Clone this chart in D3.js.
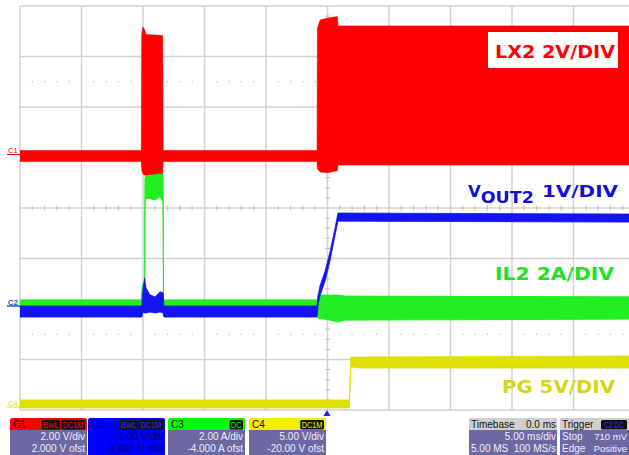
<!DOCTYPE html>
<html><head><meta charset="utf-8">
<script src="https://cdn.jsdelivr.net/npm/d3@7"></script>
<style>body{margin:0;background:#fff;} svg{display:block;}</style>
</head><body><svg id="c" width="629" height="455"></svg>
<script>
// ---------------- data ----------------
const timeDomain = [-25, 25];            // ms (10 div x 5 ms/div, trigger at centre)
const divX = 10, divY = 8;
const channels = ["C1", "C2", "C3", "C4"];
const chVdiv = [2, 1, 2, 5];
const chOffset = [2, -2, -4, -20];
const chUnit = ["V", "V", "A", "V"];
const chBadges = [["BwL", "DC1M"], ["BwL", "DC1M"], ["DC"], ["DC1M"]];
const chDivText = ["2.00 V/div", "1.00 V/div", "2.00 A/div", "5.00 V/div"];
const chOfstText = ["2.000 V ofst", "-2.000 V ofst", "-4.000 A ofst", "-20.00 V ofst"];
const timebaseText = ["Timebase", "0.0 ms", "5.00 ms/div", "5.00 MS", "100 MS/s"];
const triggerText = ["Trigger", "C2 DC", "Stop", "710 mV", "Edge", "Positive"];

// LX2 (C1, V)
const lx2Time = [-25, -15.14, -15.1, -15.0, -14.9, -14.76, -14.0, -13.4, -13.36, -0.85, -0.82, -0.6, 0.0, 0.8, 0.86, 25];
const lx2High = [0.28, 0.28, 4.9, 5.17, 5.1, 4.87, 4.85, 4.83, 0.28, 0.28, 5.1, 5.45, 5.52, 5.58, 5.21, 5.21];
const lx2Low  = [-0.16, -0.16, -0.5, -0.65, -0.69, -0.69, -0.65, -0.62, -0.16, -0.16, -0.45, -0.57, -0.6, -0.52, -0.3, -0.3];
// VOUT2 (C2, V)
const voutTime = [-25, -15.1, -15.0, -14.88, -14.76, -14.43, -14.02, -13.62, -13.37, -13.3, -0.85, -0.77, -0.61, -0.2, 0.2, 0.61, 0.85, 25];
const voutHigh = [0.06, 0.06, 0.38, 0.61, 0.42, 0.28, 0.24, 0.34, 0.32, 0.06, 0.06, 0.26, 0.46, 0.75, 1.13, 1.60, 1.90, 1.88];
const voutLow  = [-0.16, -0.16, -0.06, -0.08, -0.08, -0.06, -0.08, -0.06, -0.08, -0.16, -0.16, 0.06, 0.26, 0.55, 0.95, 1.45, 1.74, 1.72];
// IL2 (C3, A)
const il2Time = [-25, -15.15, -15.06, -14.86, -14.84, -14.67, -14.02, -13.62, -13.37, -13.33, -0.85, -0.77, 0.2, 0.85, 1.42, 25];
const il2High = [0.36, 0.36, 0.95, 0.95, 5.19, 5.43, 5.43, 5.43, 5.35, 0.36, 0.36, 0.55, 0.55, 0.55, 0.51, 0.48];
const il2Low  = [-0.04, -0.04, -0.04, -0.04, 4.32, 4.40, 4.32, 4.44, 4.24, -0.04, -0.04, -0.36, -0.44, -0.51, -0.44, -0.40];
// PG (C4, V)
const pgTime = [-25, 1.77, 1.9, 2.64, 25];
const pgHigh = [0.99, 0.99, 5.25, 5.25, 5.35];
const pgLow  = [0.2, 0.2, 4.26, 4.16, 4.16];

// ---------------- styles ----------------
const chColor = ["#ff0000", "#1414f0", "#22ee22", "#e0e000"];
const headColor = ["#ff0000", "#0000ff", "#00ff00", "#f0f000"];
const plot = {left: 20, right: 635, top: 6, bottom: 410};

const svg = d3.select("#c");
svg.append("rect").attr("width", 629).attr("height", 455).attr("fill", "#fff");

const x = d3.scaleLinear().domain(timeDomain).range([plot.left, plot.right]);
const xd = d3.scaleLinear().domain([0, divX]).range([plot.left, plot.right]);
const yd = d3.scaleLinear().domain([-divY / 2, divY / 2]).range([plot.bottom, plot.top]);
const yCh = channels.map((c, i) => d3.scaleLinear()
  .domain([-divY / 2 * chVdiv[i] - chOffset[i], divY / 2 * chVdiv[i] - chOffset[i]])
  .range([plot.bottom, plot.top]));

svg.append("defs").append("clipPath").attr("id", "pc")
  .append("rect").attr("x", plot.left).attr("y", plot.top)
  .attr("width", plot.right - plot.left).attr("height", plot.bottom - plot.top);

// ---------------- grid ----------------
const grid = svg.append("g");
const gc = "#d2d2d2";
grid.selectAll(".vg").data(d3.range(0, divX + 1)).join("line")
  .attr("x1", d => xd(d)).attr("x2", d => xd(d)).attr("y1", plot.top).attr("y2", plot.bottom)
  .attr("stroke", gc).attr("stroke-width", 1.5);
grid.selectAll(".hg").data(d3.range(-divY / 2, divY / 2 + 1)).join("line")
  .attr("y1", d => yd(d)).attr("y2", d => yd(d)).attr("x1", plot.left).attr("x2", plot.right)
  .attr("stroke", gc).attr("stroke-width", 1.5);
const xMinor = d3.range(0, divX + 0.001, 0.2).filter(v => Math.abs(v - Math.round(v)) > 0.01);
const yMinor = d3.range(-divY / 2, divY / 2 + 0.001, 0.2).filter(v => Math.abs(v - Math.round(v)) > 0.01);
grid.selectAll(".xt").data(xMinor).join("line")
  .attr("x1", d => xd(d)).attr("x2", d => xd(d)).attr("y1", yd(0) - 2.5).attr("y2", yd(0) + 2.5)
  .attr("stroke", "#bdbdbd").attr("stroke-width", 1);
grid.selectAll(".yt").data(yMinor).join("line")
  .attr("y1", d => yd(d)).attr("y2", d => yd(d)).attr("x1", xd(5) - 2.5).attr("x2", xd(5) + 2.5)
  .attr("stroke", "#bdbdbd").attr("stroke-width", 1);
[2.5, -2.5].forEach(r => {
  grid.selectAll(null).data(xMinor).join("rect")
    .attr("x", d => xd(d) - 0.6).attr("y", yd(r) - 0.6).attr("width", 1.2).attr("height", 1.2)
    .attr("fill", "#b8b8b8");
});

// ---------------- traces ----------------
const traces = svg.append("g").attr("clip-path", "url(#pc)");
function band(times, hi, lo, ci, sw) {
  const data = d3.zip(times, hi, lo).map(([t, h, l]) => ({t, h, l}));
  const area = d3.area().x(d => x(d.t)).y0(d => yCh[ci](d.l)).y1(d => yCh[ci](d.h));
  traces.append("path").attr("d", area(data)).attr("fill", chColor[ci])
    .attr("stroke", chColor[ci]).attr("stroke-width", sw).attr("stroke-linejoin", "round");
}
band(il2Time, il2High, il2Low, 2, 1);
band(pgTime, pgHigh, pgLow, 3, 0.8);
band(lx2Time, lx2High, lx2Low, 0, 0.6);
band(voutTime, voutHigh, voutLow, 1, 0.8);

// channel ground markers
[2, 3, 0, 1].forEach(i => {
  const y0 = yCh[i](0);
  const g = svg.append("g");
  g.append("text").attr("x", 8).attr("y", y0 - 4.5).text(channels[i])
    .attr("font-family", "Liberation Sans, Arial, sans-serif").attr("font-size", 7.5)
    .attr("fill", chColor[i]);
  g.append("line").attr("x1", 7).attr("x2", plot.left).attr("y1", y0 - 3).attr("y2", y0 - 3)
    .attr("stroke", chColor[i]).attr("stroke-width", 1);
});

// trigger marker
svg.append("path")
  .attr("d", d3.symbol(d3.symbolTriangle, 22)())
  .attr("transform", `translate(${x(0) - 0.5},${plot.bottom + 4})`)
  .attr("fill", "#2020ff");

// ---------------- channel labels ----------------
const lf = "DejaVu Sans, Verdana, sans-serif";
svg.append("rect").attr("x", 488).attr("y", 32).attr("width", 130).attr("height", 36).attr("fill", "#fff");
svg.append("text").attr("x", 495).attr("y", 58).text("LX2 2V/DIV")
  .attr("font-family", lf).attr("font-weight", "bold").attr("font-size", 17.5)
  .attr("fill", "#ff0000").attr("textLength", 120).attr("lengthAdjust", "spacingAndGlyphs");
const vt = svg.append("text").attr("x", 468).attr("y", 197)
  .attr("font-family", lf).attr("font-weight", "bold").attr("font-size", 16.5).attr("fill", "#1010d8");
vt.append("tspan").text("V");
vt.append("tspan").attr("dy", 6).attr("font-size", 15).attr("textLength", 53).attr("lengthAdjust", "spacingAndGlyphs").text("OUT2");
vt.append("tspan").attr("dy", -6).attr("x", 542).attr("textLength", 76).attr("lengthAdjust", "spacingAndGlyphs").text("1V/DIV");
svg.append("text").attr("x", 495).attr("y", 280).text("IL2 2A/DIV")
  .attr("font-family", lf).attr("font-weight", "bold").attr("font-size", 17)
  .attr("fill", "#22e022").attr("textLength", 119).attr("lengthAdjust", "spacingAndGlyphs");
svg.append("text").attr("x", 502).attr("y", 393).text("PG 5V/DIV")
  .attr("font-family", lf).attr("font-weight", "bold").attr("font-size", 17)
  .attr("fill", "#d6d614").attr("textLength", 113).attr("lengthAdjust", "spacingAndGlyphs");

// ---------------- info boxes ----------------
const ff = "Liberation Sans, Arial, sans-serif";
const boxX = [10, 88, 168, 249];
const boxW = 77;
const bodyColor = "#6c68a4";
function header(g, bx, w, col) {
  g.append("path").attr("d", `M${bx},430 V421 a3,3 0 0 1 3,-3 H${bx + w - 3} a3,3 0 0 1 3,3 V430 Z`).attr("fill", col);
}
channels.forEach((c, i) => {
  const g = svg.append("g");
  const selected = i === 1;
  g.append("rect").attr("x", boxX[i]).attr("y", 418).attr("width", boxW).attr("height", 45).attr("rx", 3)
    .attr("fill", selected ? "#0000ff" : bodyColor);
  header(g, boxX[i], boxW, headColor[i]);
  g.append("text").attr("x", boxX[i] + 3).attr("y", 428).text(c)
    .attr("font-family", ff).attr("font-size", 10).attr("fill", selected ? "#000060" : "#300000");
  let bx = boxX[i] + boxW - 1;
  chBadges[i].slice().reverse().forEach(b => {
    const w = b.length * 5.2 + 3;
    bx -= w + 1;
    g.append("rect").attr("x", bx).attr("y", 420).attr("width", w).attr("height", 9.5).attr("rx", 1.5)
      .attr("fill", "#111");
    g.append("text").attr("x", bx + w / 2).attr("y", 428).text(b).attr("text-anchor", "middle")
      .attr("font-family", ff).attr("font-size", 8.5)
      .attr("textLength", w - 3).attr("lengthAdjust", "spacingAndGlyphs")
      .attr("fill", selected ? "#3030ff" : headColor[i]);
  });
  const tc = selected ? "#00005a" : "#eeeefa";
  g.append("text").attr("x", boxX[i] + boxW - 2).attr("y", 440).text(chDivText[i]).attr("text-anchor", "end")
    .attr("font-family", ff).attr("font-size", 10).attr("fill", tc);
  g.append("text").attr("x", boxX[i] + boxW - 2).attr("y", 452).text(chOfstText[i]).attr("text-anchor", "end")
    .attr("font-family", ff).attr("font-size", 10).attr("fill", tc);
});
const tx = (g, s, xx, yy, a, col) => g.append("text").attr("x", xx).attr("y", yy).text(s).attr("text-anchor", a)
  .attr("font-family", ff).attr("font-size", 10).attr("fill", col);
// timebase
(function () {
  const g = svg.append("g"), bx = 469, w = 88;
  g.append("rect").attr("x", bx).attr("y", 418).attr("width", w).attr("height", 45).attr("rx", 3).attr("fill", bodyColor);
  header(g, bx, w, "#cfcfcf");
  tx(g, timebaseText[0], bx + 2, 428, "start", "#111");
  tx(g, timebaseText[1], bx + w - 1, 428, "end", "#111");
  tx(g, timebaseText[2], bx + w - 1, 440, "end", "#eeeefa");
  tx(g, timebaseText[3], bx + 2, 452, "start", "#eeeefa");
  tx(g, timebaseText[4], bx + w - 1, 452, "end", "#eeeefa");
})();
// trigger
(function () {
  const g = svg.append("g"), bx = 560, w = 69;
  g.append("rect").attr("x", bx).attr("y", 418).attr("width", w).attr("height", 45).attr("rx", 3).attr("fill", bodyColor);
  header(g, bx, w, "#cfcfcf");
  tx(g, triggerText[0], bx + 2, 428, "start", "#111");
  g.append("rect").attr("x", 601).attr("y", 420).attr("width", 26).attr("height", 9.5).attr("rx", 1.5).attr("fill", "#111");
  tx(g, triggerText[1], 614, 428, "middle", "#3030ff").attr("font-size", 8.5)
    .attr("textLength", 20).attr("lengthAdjust", "spacingAndGlyphs");
  tx(g, triggerText[2], bx + 2, 440, "start", "#eeeefa");
  tx(g, triggerText[3], 627, 440, "end", "#eeeefa").attr("font-size", 9.5);
  tx(g, triggerText[4], bx + 2, 452, "start", "#eeeefa");
  tx(g, triggerText[5], 627, 452, "end", "#eeeefa").attr("font-size", 9.5);
})();
</script>
</body></html>
